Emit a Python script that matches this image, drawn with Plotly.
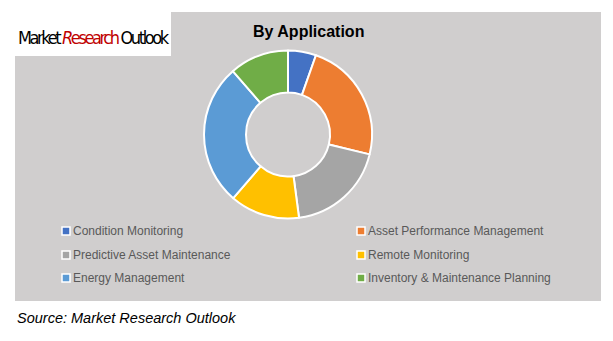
import plotly.graph_objects as go

categories = ["Condition Monitoring", "Asset Performance Management",
              "Predictive Asset Maintenance", "Remote Monitoring",
              "Energy Management", "Inventory & Maintenance Planning"]
shares = [5.4, 23.4, 19.1, 13.4, 27.3, 11.4]
colors = ["#4472C4", "#ED7D31", "#A5A5A5", "#FFC000", "#5B9BD5", "#70AD47"]

W, H = 613, 341
def px(x): return x / W
def py(y): return 1 - y / H

BG = "#D0CECE"
cx, cy, R = 288, 134.5, 84

fig = go.Figure(go.Pie(
    labels=categories, values=shares, hole=0.5, sort=False,
    direction="clockwise", rotation=0, textinfo="none",
    marker=dict(colors=colors, line=dict(color="white", width=2)),
    domain=dict(x=[px(cx - R), px(cx + R)], y=[py(cy + R), py(cy - R)]),
    showlegend=False, hoverinfo="label+percent",
))

shapes = [
    dict(type="rect", xref="paper", yref="paper", x0=px(15), x1=px(601),
         y0=py(301), y1=py(12), fillcolor=BG, line=dict(width=0), layer="below"),
    dict(type="rect", xref="paper", yref="paper", x0=px(0), x1=px(171),
         y0=py(56), y1=py(0), fillcolor="white", line=dict(width=0), layer="below"),
]
logo_style = "font-stretch:condensed;letter-spacing:-2.4px"
annotations = [
    dict(text="<b>By Application</b>", x=px(308), y=py(31), xref="paper", yref="paper",
         showarrow=False, font=dict(family="Arial, Liberation Sans", size=16, color="black"),
         xanchor="center", yanchor="middle"),
    dict(text="<i>Source: Market Research Outlook</i>", x=px(15), y=py(318), xref="paper",
         yref="paper", showarrow=False, xanchor="left", yanchor="middle",
         font=dict(family="Arial, Liberation Sans", size=14.5, color="black")),
    dict(text=(f"<span style='{logo_style}'>Market </span>"
               f"<span style='{logo_style};color:#C00000'><i>R</i>esearch</span>"
               f"<span style='{logo_style}'> Outlook</span>"),
         x=px(16), y=py(37), xref="paper", yref="paper", showarrow=False,
         xanchor="left", yanchor="middle",
         font=dict(family="DejaVu Sans Condensed, DejaVu Sans", size=18, color="black")),
]

col_x = [62, 357]
row_y = [231, 255, 278]
for i, (cat, col) in enumerate(zip(categories, colors)):
    mx = col_x[i % 2]
    my = row_y[i // 2]
    shapes.append(dict(type="rect", xref="paper", yref="paper",
                       x0=px(mx), x1=px(mx + 8), y0=py(my + 4), y1=py(my - 4),
                       fillcolor=col, line=dict(color="white", width=1.5)))
    annotations.append(dict(text=cat, x=px(mx + 9), y=py(my), xref="paper", yref="paper",
                            showarrow=False, xanchor="left", yanchor="middle",
                            font=dict(family="Liberation Sans, Arial", size=12, color="#595959")))

fig.update_layout(width=W, height=H, margin=dict(l=0, r=0, t=0, b=0),
                  paper_bgcolor="white", plot_bgcolor="white",
                  shapes=shapes, annotations=annotations)
fig.write_html("out.html")
